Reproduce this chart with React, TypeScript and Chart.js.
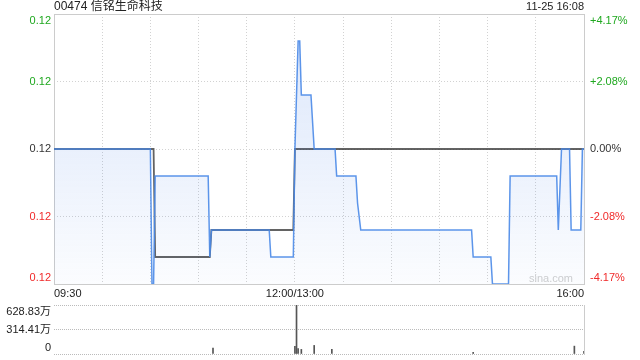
import React, { useEffect, useRef } from 'react';
import { Chart, registerables } from 'chart.js';

Chart.register(...registerables);

const stockTitle = '00474 信铭生命科技';
const stampText = '11-25 16:08';
const watermark = 'sina.com';
const prevClose = 0.12;

const priceTicks = [0.115, 0.1175, 0.12, 0.1225, 0.125];
const priceTickLabels = ['0.12', '0.12', '0.12', '0.12', '0.12'];
const pctTickLabels = ['-4.17%', '-2.08%', '0.00%', '+2.08%', '+4.17%'];

const timeLabels = ['09:30', '12:00/13:00', '16:00'];
const timeLabelMinutes = [0, 150, 330];

const priceMinutes = [0, 60, 61, 62, 63, 96, 97, 98, 134, 135, 149, 150, 152, 153, 154, 160, 162, 175, 176, 188, 189, 191, 260, 261, 272, 273, 283, 284, 313, 314, 316, 321, 322, 328, 329, 330];
const priceValues = [0.120, 0.120, 0.115, 0.115, 0.119, 0.119, 0.116, 0.117, 0.117, 0.116, 0.116, 0.120, 0.124, 0.124, 0.122, 0.122, 0.120, 0.120, 0.119, 0.119, 0.118, 0.117, 0.117, 0.116, 0.116, 0.115, 0.115, 0.119, 0.119, 0.117, 0.120, 0.120, 0.117, 0.117, 0.120, 0.120];

const avgMinutes = [0, 62, 63, 97, 98, 149, 150, 330];
const avgValues = [0.120, 0.120, 0.116, 0.116, 0.117, 0.117, 0.120, 0.120];

const volMinutes = [99, 150, 151, 152, 154, 162, 173, 261, 324, 330];
const volValues = [76, 97, 628.83, 68, 59, 110, 59, 21, 101, 34];

const volTicks = [0, 314.41, 628.83];
const volTickLabels = ['0', '314.41万', '628.83万'];

const FONT = '"Liberation Sans", Arial, "Noto Sans CJK SC", sans-serif';
const GREEN = '#1fa81f';
const RED = '#f02a2a';
const DARK = '#333333';

function pctColor(v: number) {
  if (v > prevClose + 1e-9) return GREEN;
  if (v < prevClose - 1e-9) return RED;
  return DARK;
}

export default function App() {
  const mainRef = useRef<HTMLCanvasElement | null>(null);
  const volRef = useRef<HTMLCanvasElement | null>(null);

  useEffect(() => {
    const mainCanvas = mainRef.current!;
    const volCanvas = volRef.current!;

    const mainPlugin = {
      id: 'mainDeco',
      beforeDatasetsDraw(chart: any) {
        const { ctx, chartArea } = chart;
        ctx.save();
        ctx.strokeStyle = '#cccccc';
        ctx.lineWidth = 1;
        ctx.strokeRect(chartArea.left + 0.5, chartArea.top + 0.5, chartArea.right - chartArea.left, chartArea.bottom - chartArea.top);
        ctx.font = '11px ' + FONT;
        ctx.fillStyle = '#cfcfcf';
        ctx.textAlign = 'right';
        ctx.textBaseline = 'middle';
        ctx.fillText(watermark, chartArea.right - 11, chartArea.bottom - 5);
        ctx.restore();
      },
      afterDraw(chart: any) {
        const { ctx, chartArea, scales } = chart;
        const y = scales.y;
        const x = scales.x;
        ctx.save();
        ctx.textBaseline = 'middle';
        ctx.font = '12px ' + FONT;
        ctx.fillStyle = '#222222';
        ctx.textAlign = 'left';
        ctx.fillText(stockTitle, chartArea.left, 7);
        ctx.font = '11px ' + FONT;
        ctx.textAlign = 'right';
        ctx.fillText(stampText, chartArea.right, 7);
        ctx.font = '11px ' + FONT;
        priceTicks.forEach((v, i) => {
          let py = y.getPixelForValue(v);
          if (i === priceTicks.length - 1) py += 6.5;
          if (i === 0) py -= 6.5;
          ctx.fillStyle = pctColor(v);
          ctx.textAlign = 'right';
          ctx.fillText(priceTickLabels[i], chartArea.left - 3, py);
          ctx.textAlign = 'left';
          ctx.fillText(pctTickLabels[i], chartArea.right + 6, py);
        });
        ctx.fillStyle = '#222222';
        timeLabels.forEach((t, i) => {
          const px = x.getPixelForValue(timeLabelMinutes[i]);
          ctx.textAlign = i === 0 ? 'left' : i === timeLabels.length - 1 ? 'right' : 'center';
          ctx.fillText(t, px, chartArea.bottom + 10);
        });
        ctx.restore();
      },
    };

    const fillGrad = (c: any) => {
      const chart = c.chart;
      const ca = chart.chartArea;
      if (!ca) return 'rgba(60,120,230,0.12)';
      const g = chart.ctx.createLinearGradient(0, ca.top, 0, ca.bottom);
      g.addColorStop(0, 'rgba(60,120,230,0.18)');
      g.addColorStop(0.5, 'rgba(60,120,230,0.11)');
      g.addColorStop(1, 'rgba(60,120,230,0.02)');
      return g;
    };

    const mainChart = new Chart(mainCanvas, {
      type: 'line',
      data: {
        datasets: [
          {
            label: 'price',
            data: priceMinutes.map((m, i) => ({ x: m, y: priceValues[i] })),
            borderColor: 'rgba(74,138,232,0.9)',
            borderWidth: 1.5,
            pointRadius: 0,
            fill: 'start',
            backgroundColor: fillGrad,
            tension: 0,
          },
          {
            label: 'avg',
            data: avgMinutes.map((m, i) => ({ x: m, y: avgValues[i] })),
            borderColor: 'rgba(60,60,60,0.8)',
            borderWidth: 1.8,
            pointRadius: 0,
            fill: false,
            tension: 0,
          },
        ],
      },
      options: {
        responsive: false,
        animation: false,
        devicePixelRatio: 1,
        layout: { padding: { left: 54, right: 56, top: 14, bottom: 76 } },
        plugins: { legend: { display: false }, tooltip: { enabled: false } },
        scales: {
          x: {
            type: 'linear',
            min: 0,
            max: 330,
            ticks: { display: false, stepSize: 30 },
            afterBuildTicks: (s: any) => {
              const arr = [];
              for (const m of [0, 30, 60, 90, 120, 150, 180, 210, 240, 270, 300, 330]) arr.push({ value: m });
              s.ticks = arr;
            },
            afterFit: (s: any) => { s.height = 0; },
            grid: {
              drawTicks: false,
              color: (c: any) => (c.tick && (c.tick.value === 0 || c.tick.value === 330) ? 'rgba(0,0,0,0)' : '#d2d2d2'),
              lineWidth: 1,
            },
            border: { display: false, dash: [1, 2] },
          },
          y: {
            min: 0.115,
            max: 0.125,
            ticks: { display: false },
            afterBuildTicks: (s: any) => { s.ticks = priceTicks.map((v) => ({ value: v })); },
            afterFit: (s: any) => { s.width = 0; },
            grid: {
              drawTicks: false,
              color: (c: any) => (c.index === 0 || c.index === priceTicks.length - 1 ? 'rgba(0,0,0,0)' : '#d2d2d2'),
              lineWidth: 1,
            },
            border: { display: false, dash: [1, 2] },
          },
        },
      },
      plugins: [mainPlugin],
    } as any);

    const volPlugin = {
      id: 'volDeco',
      afterDraw(chart: any) {
        const { ctx, chartArea, scales } = chart;
        ctx.save();
        ctx.strokeStyle = '#cccccc';
        ctx.lineWidth = 1;
        ctx.beginPath();
        ctx.moveTo(chartArea.right + 0.5, chartArea.top);
        ctx.lineTo(chartArea.right + 0.5, chartArea.bottom + 1);
        ctx.stroke();
        ctx.font = '11px ' + FONT;
        ctx.fillStyle = '#222222';
        ctx.textAlign = 'right';
        ctx.textBaseline = 'middle';
        volTicks.forEach((v, i) => {
          let py = scales.y.getPixelForValue(v);
          if (i === volTicks.length - 1) py += 6.5;
          if (i === 0) py -= 6;
          ctx.fillText(volTickLabels[i], chartArea.left - 3, py);
        });
        ctx.restore();
      },
    };

    const volChart = new Chart(volCanvas, {
      type: 'bar',
      data: {
        datasets: [
          {
            label: 'vol',
            data: volMinutes.map((m, i) => ({ x: m, y: volValues[i] })),
            backgroundColor: '#555555',
            barThickness: 1,
            borderWidth: 0,
          },
        ],
      },
      options: {
        responsive: false,
        animation: false,
        devicePixelRatio: 1,
        layout: { padding: { left: 54, right: 56, top: 305, bottom: 6 } },
        plugins: { legend: { display: false }, tooltip: { enabled: false } },
        scales: {
          x: {
            type: 'linear',
            min: 0,
            max: 330,
            offset: false,
            ticks: { display: false },
            afterFit: (s: any) => { s.height = 0; },
            grid: { display: false, drawTicks: false },
            border: { display: false },
          },
          y: {
            min: 0,
            max: 628.83,
            ticks: { display: false },
            afterBuildTicks: (s: any) => { s.ticks = volTicks.map((v) => ({ value: v })); },
            afterFit: (s: any) => { s.width = 0; },
            grid: { drawTicks: false, color: '#bbbbbb', lineWidth: 1 },
            border: { display: false, dash: [1, 1] },
          },
        },
      },
      plugins: [volPlugin],
    } as any);

    return () => {
      mainChart.destroy();
      volChart.destroy();
    };
  }, []);

  return (
    <div style={{ position: 'fixed', left: 0, top: 0, width: 640, height: 360, background: '#ffffff' }}>
      <canvas ref={mainRef} width={640} height={360} style={{ position: 'absolute', left: 0, top: 0, width: 640, height: 360 }} />
      <canvas ref={volRef} width={640} height={360} style={{ position: 'absolute', left: 0, top: 0, width: 640, height: 360 }} />
    </div>
  );
}
